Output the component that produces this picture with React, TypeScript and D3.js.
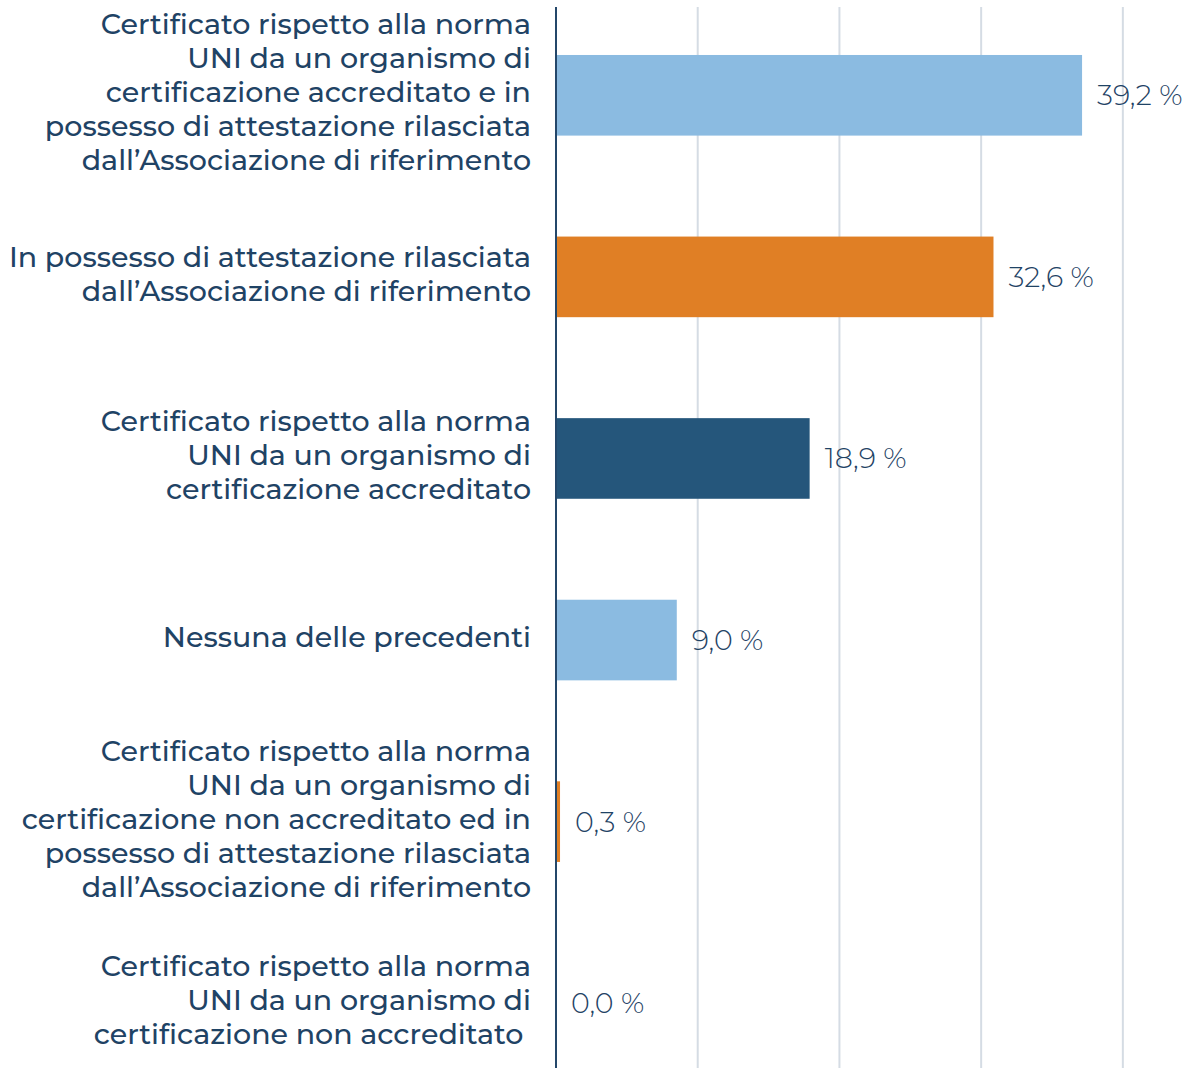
import React from "react";
import * as d3 from "d3";

const categories: string[][] = [
  ["Certificato rispetto alla norma", "UNI da un organismo di", "certificazione accreditato e in", "possesso di attestazione rilasciata", "dall\u2019Associazione di riferimento"],
  ["In possesso di attestazione rilasciata", "dall\u2019Associazione di riferimento"],
  ["Certificato rispetto alla norma", "UNI da un organismo di", "certificazione accreditato"],
  ["Nessuna delle precedenti"],
  ["Certificato rispetto alla norma", "UNI da un organismo di", "certificazione non accreditato ed in", "possesso di attestazione rilasciata", "dall\u2019Associazione di riferimento"],
  ["Certificato rispetto alla norma", "UNI da un organismo di", "certificazione non accreditato "],
];
const values: number[] = [39.2, 32.6, 18.9, 9.0, 0.3, 0.0];
const valueLabels: string[] = ["39,2 %", "32,6 %", "18,9 %", "9,0 %", "0,3 %", "0,0 %"];
const barColors: string[] = ["#8BBBE1", "#E07F25", "#25567B", "#8BBBE1", "#E07F25", "#25567B"];
const gridTicks: number[] = [10.56, 21.12, 31.68, 42.24];

const W = 1188;
const H = 1068;
const TEXT = "#1F4365";
const FONT = "Montserrat, 'Open Sans', 'Noto Sans', sans-serif";

export default function App() {
  const x = d3.scaleLinear().domain([0, 45]).range([556, 556 + 45 * 13.42]);
  const idx = d3.range(values.length).map(String);
  const y = d3.scaleBand<string>().domain(idx).range([4.5, 1094]).paddingInner(0.556).paddingOuter(0.278);
  const lineH = 34;

  return (
    <div style={{ position: "absolute", left: 0, top: 0 }}>
      <svg width={W} height={H} style={{ display: "block" }}>
        <rect x={0} y={0} width={W} height={H} fill="#ffffff" />
        {gridTicks.map((t, i) => (
          <line key={"g" + i} x1={x(t)} x2={x(t)} y1={7} y2={H} stroke="#D5DCE4" strokeWidth={2} />
        ))}
        {values.map((v, i) => {
          const y0 = y(String(i))!;
          return (
            <rect key={"b" + i} x={x(0)} y={y0} width={Math.max(0, x(v) - x(0))} height={y.bandwidth()} fill={barColors[i]} />
          );
        })}
        <line x1={x(0)} x2={x(0)} y1={7} y2={H} stroke="#24476A" strokeWidth={2} />
        {values.map((v, i) => {
          const c = y(String(i))! + y.bandwidth() / 2;
          return (
            <text key={"v" + i} x={x(v) + 15} y={c + 10} fontFamily={FONT} fontSize={28.5} fontWeight={300} fill={TEXT}>
              {valueLabels[i]}
            </text>
          );
        })}
        {categories.map((lines, i) => {
          const c = y(String(i))! + y.bandwidth() / 2;
          const n = lines.length;
          return (
            <text key={"c" + i} fontFamily={FONT} fontSize={28.5} fontWeight={500} fill={TEXT} textAnchor="end" style={{ whiteSpace: "pre" }}>
              {lines.map((l, j) => (
                <tspan key={j} x={531} y={c + (j - (n - 1) / 2) * lineH + 7}>{l}</tspan>
              ))}
            </text>
          );
        })}
      </svg>
    </div>
  );
}
